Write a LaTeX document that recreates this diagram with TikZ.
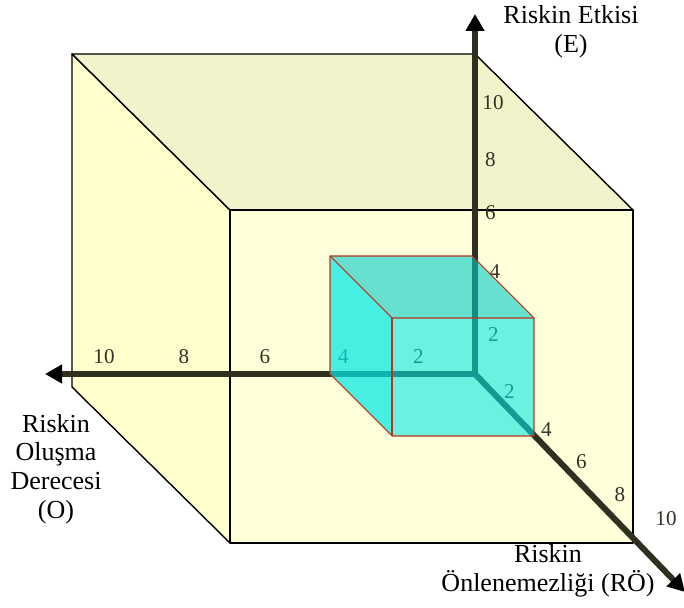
\documentclass[tikz,border=0pt]{standalone}
\usepackage{fontspec}
\setmainfont{Liberation Serif}
\usetikzlibrary{arrows.meta}
\definecolor{onyuz}{RGB}{255,255,218}
\definecolor{yanyuz}{RGB}{255,255,206}
\definecolor{ustyuz}{RGB}{241,243,202}
\definecolor{eksen}{RGB}{48,48,32}
\definecolor{camgobegi}{RGB}{0,232,230}
\definecolor{camust}{RGB}{0,205,200}
\definecolor{kenar}{RGB}{190,50,30}
\definecolor{rakamrengi}{RGB}{50,50,40}
\begin{document}
\begin{tikzpicture}[line width=0.8pt, line join=round,
  rakam/.style={font=\fontsize{12}{14}\selectfont, text=rakamrengi, inner sep=0pt},
  baslik/.style={font=\fontsize{14.8}{16.4}\selectfont, align=center, inner sep=0pt},
  eksenok/.style={line width=1.2mm, draw=eksen, -{Triangle[length=3.4mm,width=3.6mm,color=black]}}]
  \useasboundingbox (0,0) rectangle (13.68,12.16);
  % büyük küp: sol, üst ve ön yüz
  \filldraw[fill=yanyuz] (1.44,11.08) -- (4.60,7.96) -- (4.60,1.30) -- (1.44,4.42) -- cycle;
  \filldraw[fill=ustyuz] (1.44,11.08) -- (9.50,11.08) -- (12.66,7.96) -- (4.60,7.96) -- cycle;
  \filldraw[fill=onyuz] (4.60,1.30) rectangle (12.66,7.96);
  % eksenler
  \coordinate (O) at (9.50,4.68);
  \coordinate (Eucu) at (9.50,11.88);
  \coordinate (Oucu) at (0.90,4.68);
  \coordinate (ROucu) at (13.70,0.32);
  \draw[eksenok] (O) -- (Eucu);
  \draw[eksenok] (O) -- (Oucu);
  \draw[eksenok] (O) -- (ROucu);
  % eksen rakamları
  \foreach \n/\x/\y in {10/9.86/10.11, 8/9.81/8.96, 6/9.81/7.91, 4/9.90/6.73, 2/9.87/5.46} {
    \node[rakam] (e\n) at (\x,\y) {\n};
  }
  \foreach \n/\x in {10/2.08, 8/3.68, 6/5.30, 4/6.87, 2/8.37} {
    \node[rakam] (o\n) at (\x,5.02) {\n};
  }
  \foreach \n/\x/\y in {2/10.19/4.33, 4/10.93/3.56, 6/11.63/2.93, 8/12.40/2.26, 10/13.32/1.79} {
    \node[rakam] (r\n) at (\x,\y) {\n};
  }
  % küçük küp, yarı saydam
  \fill[camgobegi, fill opacity=0.72] (6.60,7.04) -- (7.84,5.80) -- (7.84,3.44) -- (6.60,4.68) -- cycle;
  \fill[camust, fill opacity=0.6] (6.60,7.04) -- (9.44,7.04) -- (10.68,5.80) -- (7.84,5.80) -- cycle;
  \fill[camgobegi, fill opacity=0.58] (7.84,3.44) rectangle (10.68,5.80);
  \draw[kenar, line width=0.6pt] (6.60,4.68) -- (6.60,7.04) -- (9.44,7.04) -- (10.68,5.80)
    -- (10.68,3.44) -- (7.84,3.44) -- cycle;
  \draw[kenar, line width=0.6pt] (6.60,7.04) -- (7.84,5.80) -- (10.68,5.80);
  \draw[kenar, line width=0.6pt] (7.84,5.80) -- (7.84,3.44);
  % eksen adları
  \node[baslik] (adE) at (11.42,11.52) {Riskin Etkisi\\(E)};
  \node[baslik] (adO) at (1.12,2.78) {Riskin\\Oluşma\\Derecesi\\(O)};
  \node[baslik] (adRO) at (10.96,0.74) {Riskin\\Önlenemezliği (RÖ)};
\end{tikzpicture}
\end{document}
